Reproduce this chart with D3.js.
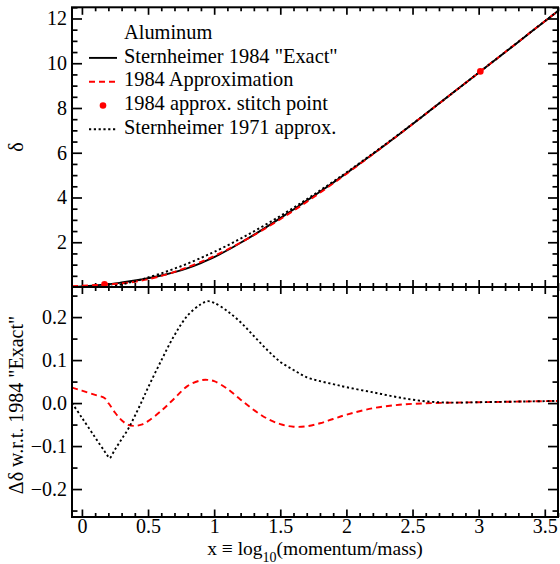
<!DOCTYPE html>
<html>
<head>
<meta charset="utf-8">
<script src="https://cdn.jsdelivr.net/npm/d3@7"></script>
<style>
  html, body { margin: 0; padding: 0; background: #fff; }
  svg { display: block; font-family: "Liberation Serif", "Times New Roman", serif; }
</style>
</head>
<body>
<svg id="chart" width="560" height="564"></svg>
<script>
// x = log10(p/m) sample grid shared by all curves
const xGrid = [-0.075, 0, 0.1, 0.1708, 0.2, 0.21, 0.25, 0.3, 0.35, 0.4, 0.45, 0.5,
  0.6, 0.7, 0.8, 0.9, 0.95, 1.0, 1.1, 1.2, 1.3, 1.4, 1.5, 1.6, 1.7, 1.8, 1.9, 2.0,
  2.2, 2.4, 2.6, 2.8, 3.0, 3.2, 3.4, 3.6];

// density-effect correction delta for aluminum
const deltaExact = [0.003, 0.026, 0.068, 0.108, 0.122, 0.129, 0.158, 0.199, 0.243, 0.288,
  0.336, 0.389, 0.512, 0.663, 0.844, 1.069, 1.196, 1.335, 1.641, 1.976, 2.330, 2.700,
  3.079, 3.466, 3.859, 4.259, 4.666, 5.082, 5.942, 6.830, 7.738, 8.654, 9.574, 10.494,
  11.414, 12.334];
const delta1984 = [0.039, 0.055, 0.087, 0.120, 0.122, 0.125, 0.136, 0.159, 0.192, 0.235,
  0.286, 0.347, 0.494, 0.674, 0.884, 1.122, 1.250, 1.386, 1.674, 1.984, 2.314, 2.664,
  3.030, 3.411, 3.805, 4.212, 4.629, 5.055, 5.930, 6.826, 7.737, 8.655, 9.576, 10.497,
  11.418, 12.339];
const delta1971 = [0, 0, 0, 0, 0, 0.001, 0.050, 0.115, 0.183, 0.258, 0.333, 0.425, 0.611,
  0.821, 1.048, 1.299, 1.433, 1.568, 1.855, 2.164, 2.486, 2.824, 3.175, 3.543, 3.919,
  4.310, 4.710, 5.119, 5.967, 6.843, 7.742, 8.655, 9.576, 10.497, 11.418, 12.339];

// differences with respect to the 1984 "exact" curve
const resid1984 = [0.036, 0.029, 0.019, 0.012, 0.000, -0.004, -0.022, -0.040, -0.0505,
  -0.053, -0.050, -0.042, -0.018, 0.011, 0.040, 0.053, 0.054, 0.051, 0.033, 0.008,
  -0.016, -0.036, -0.049, -0.055, -0.054, -0.047, -0.037, -0.027, -0.012, -0.004,
  -0.0005, 0.001, 0.002, 0.003, 0.004, 0.005];
const resid1971 = [0.000, -0.034, -0.080, -0.112, -0.125, -0.128, -0.108, -0.084, -0.060,
  -0.030, 0.002, 0.036, 0.099, 0.158, 0.204, 0.230, 0.237, 0.233, 0.214, 0.188, 0.156,
  0.124, 0.096, 0.077, 0.060, 0.051, 0.044, 0.037, 0.025, 0.013, 0.004, 0.001, 0.002,
  0.003, 0.004, 0.005];

// stitch points of the 1984 parametrisation (X0 and X1)
const stitchX = [0.1708, 3.0127];
const stitchDelta = [0.12, 9.6345];

// tick values
const xMajor = [0, 0.5, 1, 1.5, 2, 2.5, 3, 3.5];
const xLabels = ["0", "0.5", "1", "1.5", "2", "2.5", "3", "3.5"];
const topMajor = [2, 4, 6, 8, 10, 12];
const botMajor = [-0.2, -0.1, 0, 0.1, 0.2];
const botLabels = ["\u22120.2", "\u22120.1", "0.0", "0.1", "0.2"];

const legendLabels = ["Aluminum", "Sternheimer 1984 \"Exact\"", "1984 Approximation",
  "1984 approx. stitch point", "Sternheimer 1971 approx."];

const svg = d3.select("#chart");
const L = 72, R = 558, T = 7.3, M = 287, B = 517;
const FONT = 20;
const LW = 1.9;
const DASH = "6,4", DOT = "2.2,2.6";

const x = d3.scaleLinear().domain([-0.075, 3.6]).range([L, R]);
const yTop = d3.scaleLinear().domain([0, 12.5]).range([M, T]);
const yBot = d3.scaleLinear().domain([-0.265, 0.27]).range([B, M]);

const xMinor = d3.range(-0.0, 3.61, 0.1).map(v => +v.toFixed(2)).filter(v => !xMajor.includes(v));
const topMinor = d3.range(0.5, 12.51, 0.5).filter(v => !topMajor.includes(v));
const botMinor = [-0.25, -0.15, -0.05, 0.05, 0.15, 0.25];

const defs = svg.append("defs");
defs.append("clipPath").attr("id", "clipTop").append("rect")
  .attr("x", L).attr("y", T).attr("width", R - L).attr("height", M - T);
defs.append("clipPath").attr("id", "clipBot").append("rect")
  .attr("x", L).attr("y", M).attr("width", R - L).attr("height", B - M);

function styleAxis(g) {
  g.select(".domain").remove();
  g.selectAll(".tick line").attr("stroke", "#000").attr("stroke-width", 1.7);
  g.selectAll(".tick text").attr("fill", "#000").attr("font-size", FONT)
    .attr("font-family", "Liberation Serif, Times New Roman, serif");
}

function addAxis(axis, tx, ty) {
  svg.append("g").attr("transform", `translate(${tx},${ty})`).call(axis).call(styleAxis);
}

// ---- top panel axes
addAxis(d3.axisLeft(yTop).tickValues(topMajor).tickSize(-10).tickPadding(5).tickFormat(d3.format("d")), L, 0);
addAxis(d3.axisLeft(yTop).tickValues(topMinor).tickSize(-5.5).tickFormat(""), L, 0);
addAxis(d3.axisRight(yTop).tickValues(topMajor).tickSize(-10).tickFormat(""), R, 0);
addAxis(d3.axisRight(yTop).tickValues(topMinor).tickSize(-5.5).tickFormat(""), R, 0);
addAxis(d3.axisTop(x).tickValues(xMajor).tickSize(-7.5).tickFormat(""), 0, T);
addAxis(d3.axisTop(x).tickValues(xMinor).tickSize(-4).tickFormat(""), 0, T);
addAxis(d3.axisBottom(x).tickValues(xMajor).tickSize(-7).tickFormat(""), 0, M);
addAxis(d3.axisBottom(x).tickValues(xMinor).tickSize(-4).tickFormat(""), 0, M);

// ---- bottom panel axes
addAxis(d3.axisLeft(yBot).tickValues(botMajor).tickSize(-10).tickPadding(5)
  .tickFormat((d, i) => botLabels[i]), L, 0);
addAxis(d3.axisLeft(yBot).tickValues(botMinor).tickSize(-5.5).tickFormat(""), L, 0);
addAxis(d3.axisRight(yBot).tickValues(botMajor).tickSize(-10).tickFormat(""), R, 0);
addAxis(d3.axisRight(yBot).tickValues(botMinor).tickSize(-5.5).tickFormat(""), R, 0);
addAxis(d3.axisTop(x).tickValues(xMajor).tickSize(-7).tickFormat(""), 0, M);
addAxis(d3.axisTop(x).tickValues(xMinor).tickSize(-4).tickFormat(""), 0, M);
addAxis(d3.axisBottom(x).tickValues(xMajor).tickSize(-7.5).tickPadding(2)
  .tickFormat((d, i) => xLabels[i]), 0, B);
addAxis(d3.axisBottom(x).tickValues(xMinor).tickSize(-4).tickFormat(""), 0, B);

// ---- curves
const curve = d3.curveCatmullRom.alpha(0.5);
function drawLine(panel, ys, yScale, color, dash, width) {
  const line = d3.line().x((d, i) => x(xGrid[i])).y(d => yScale(d)).curve(curve);
  panel.append("path").datum(ys).attr("d", line)
    .attr("fill", "none").attr("stroke", color).attr("stroke-width", width)
    .attr("stroke-dasharray", dash);
}

const topPanel = svg.append("g").attr("clip-path", "url(#clipTop)");
drawLine(topPanel, deltaExact, yTop, "#000", null, LW);
drawLine(topPanel, delta1984, yTop, "#ff0000", DASH, LW);
drawLine(topPanel, delta1971, yTop, "#000", DOT, LW);
topPanel.selectAll("circle.stitch").data(stitchX).join("circle")
  .attr("class", "stitch")
  .attr("cx", d => x(d)).attr("cy", (d, i) => yTop(stitchDelta[i]))
  .attr("r", 3.3).attr("fill", "#ff0000");

const botPanel = svg.append("g").attr("clip-path", "url(#clipBot)");
drawLine(botPanel, resid1984, yBot, "#ff0000", DASH, LW);
drawLine(botPanel, resid1971, yBot, "#000", DOT, LW);

// ---- frames
svg.append("rect").attr("x", L).attr("y", T).attr("width", R - L).attr("height", M - T)
  .attr("fill", "none").attr("stroke", "#000").attr("stroke-width", 2);
svg.append("rect").attr("x", L).attr("y", M).attr("width", R - L).attr("height", B - M)
  .attr("fill", "none").attr("stroke", "#000").attr("stroke-width", 2);

// ---- legend
const legend = svg.append("g").attr("font-size", 20.4);
const legY0 = 38.7, legDy = 23.8, legTextX = 124, sx0 = 89, sx1 = 117;
legendLabels.forEach((lab, i) => {
  legend.append("text").attr("x", legTextX).attr("y", legY0 + i * legDy).text(lab);
});
const sy = i => legY0 + i * legDy - 4.6;
legend.append("line").attr("x1", sx0).attr("x2", sx1).attr("y1", sy(1)).attr("y2", sy(1))
  .attr("stroke", "#000").attr("stroke-width", LW);
legend.append("line").attr("x1", sx0).attr("x2", sx1).attr("y1", sy(2)).attr("y2", sy(2))
  .attr("stroke", "#ff0000").attr("stroke-width", LW).attr("stroke-dasharray", DASH);
legend.append("circle").attr("cx", (sx0 + sx1) / 2).attr("cy", sy(3)).attr("r", 3.3)
  .attr("fill", "#ff0000");
legend.append("line").attr("x1", sx0).attr("x2", sx1).attr("y1", sy(4)).attr("y2", sy(4))
  .attr("stroke", "#000").attr("stroke-width", LW).attr("stroke-dasharray", DOT);

// ---- axis titles
svg.append("text").attr("transform", `translate(23,${(T + M) / 2}) rotate(-90)`)
  .attr("text-anchor", "middle").attr("font-size", FONT).text("\u03b4");
svg.append("text").attr("transform", `translate(23,405) rotate(-90)`)
  .attr("text-anchor", "middle").attr("font-size", FONT).text("\u0394\u03b4 w.r.t. 1984 \"Exact\"");

const xt = svg.append("text").attr("x", (L + R) / 2).attr("y", 555)
  .attr("text-anchor", "middle").attr("font-size", 19.5);
xt.append("tspan").text("x \u2261 log");
xt.append("tspan").attr("font-size", 14).attr("dy", 7).text("10");
xt.append("tspan").attr("dy", -7).text("(momentum/mass)");
</script>
</body>
</html>
